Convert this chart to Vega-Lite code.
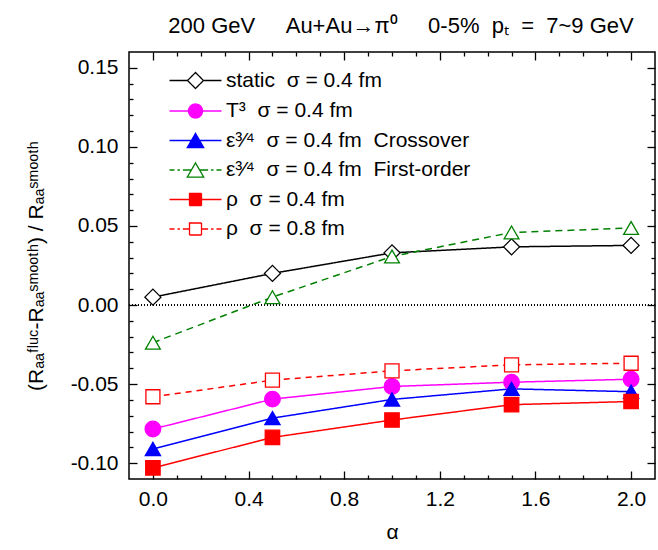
{
  "$schema": "https://vega.github.io/schema/vega-lite/v6.json",
  "width": 526,
  "height": 427,
  "autosize": {"type": "none"},
  "padding": {"left": 129, "top": 52, "right": 3, "bottom": 71},
  "title": {
    "text": "200 GeV\u00a0\u00a0\u00a0\u00a0\u00a0Au+Au→π⁰\u00a0\u00a0\u00a0\u00a0\u00a00-5%\u00a0\u00a0pₜ\u00a0\u00a0=\u00a0\u00a07~9 GeV",
    "font": "Liberation Sans",
    "fontSize": 22,
    "fontWeight": "normal",
    "color": "black",
    "anchor": "middle",
    "frame": "group",
    "dx": 9,
    "offset": 13
  },
  "config": {
    "view": {"stroke": "black", "strokeWidth": 1.5},
    "font": "Liberation Sans",
    "axis": {
      "domain": false,
      "grid": false,
      "tickColor": "black",
      "tickWidth": 1.3,
      "labelColor": "black",
      "labelFont": "Liberation Sans",
      "labelFontSize": 21,
      "titleColor": "black",
      "titleFont": "Liberation Sans",
      "titleFontWeight": "normal"
    }
  },
  "data": {
    "values": [
      {"series": "static", "alpha": 0.0, "value": 0.005},
      {"series": "static", "alpha": 0.5, "value": 0.020},
      {"series": "static", "alpha": 1.0, "value": 0.033},
      {"series": "static", "alpha": 1.5, "value": 0.0368},
      {"series": "static", "alpha": 2.0, "value": 0.0377},
      {"series": "T3", "alpha": 0.0, "value": -0.0784},
      {"series": "T3", "alpha": 0.5, "value": -0.0595},
      {"series": "T3", "alpha": 1.0, "value": -0.0515},
      {"series": "T3", "alpha": 1.5, "value": -0.0488},
      {"series": "T3", "alpha": 2.0, "value": -0.0469},
      {"series": "epsC", "alpha": 0.0, "value": -0.091},
      {"series": "epsC", "alpha": 0.5, "value": -0.0715},
      {"series": "epsC", "alpha": 1.0, "value": -0.0597},
      {"series": "epsC", "alpha": 1.5, "value": -0.053},
      {"series": "epsC", "alpha": 2.0, "value": -0.0548},
      {"series": "epsF", "alpha": 0.0, "value": -0.0238},
      {"series": "epsF", "alpha": 0.5, "value": 0.005},
      {"series": "epsF", "alpha": 1.0, "value": 0.0307},
      {"series": "epsF", "alpha": 1.5, "value": 0.0459},
      {"series": "epsF", "alpha": 2.0, "value": 0.0487},
      {"series": "rho4", "alpha": 0.0, "value": -0.103},
      {"series": "rho4", "alpha": 0.5, "value": -0.0837},
      {"series": "rho4", "alpha": 1.0, "value": -0.0727},
      {"series": "rho4", "alpha": 1.5, "value": -0.063},
      {"series": "rho4", "alpha": 2.0, "value": -0.061},
      {"series": "rho8", "alpha": 0.0, "value": -0.058},
      {"series": "rho8", "alpha": 0.5, "value": -0.0475},
      {"series": "rho8", "alpha": 1.0, "value": -0.0416},
      {"series": "rho8", "alpha": 1.5, "value": -0.0378},
      {"series": "rho8", "alpha": 2.0, "value": -0.0368}
    ]
  },
  "layer": [
    {
      "mark": {"type": "rule", "stroke": "black", "strokeWidth": 1, "strokeDash": [1, 2]},
      "encoding": {
        "y": {"datum": 0, "type": "quantitative", "scale": {"domain": [-0.11, 0.16], "nice": false, "zero": false}, "axis": null}
      }
    },
    {
      "mark": {"type": "line", "strokeWidth": 1.5},
      "encoding": {
        "x": {
          "field": "alpha", "type": "quantitative",
          "scale": {"domain": [-0.1, 2.1], "nice": false, "zero": false},
          "axis": {"orient": "bottom", "values": [0, 0.4, 0.8, 1.2, 1.6, 2.0], "format": ".1f", "tickSize": -8, "labelPadding": 17, "title": "α", "titleFontSize": 21, "titlePadding": 12}
        },
        "y": {
          "field": "value", "type": "quantitative",
          "scale": {"domain": [-0.11, 0.16], "nice": false, "zero": false},
          "axis": {"orient": "left", "values": [-0.1, -0.05, 0, 0.05, 0.1, 0.15], "labelExpr": "replace(format(datum.value, '.2f'), '−', '-')", "tickSize": -8, "labelPadding": 19, "title": "(Rₐₐᶠˡᵘᶜ-Rₐₐˢᵐᵒᵒᵗʰ) / Rₐₐˢᵐᵒᵒᵗʰ", "titleFontSize": 21, "titlePadding": 24}
        },
        "stroke": {
          "field": "series", "type": "nominal",
          "scale": {
            "domain": ["static", "T3", "epsC", "epsF", "rho4", "rho8"],
            "range": ["black", "#ff00ff", "#0000ff", "#008000", "#ff0000", "#ff0000"]
          },
          "legend": null
        },
        "strokeDash": {
          "field": "series", "type": "nominal",
          "scale": {
            "domain": ["static", "T3", "epsC", "epsF", "rho4", "rho8"],
            "range": [[1, 0], [1, 0], [1, 0], [7, 5], [1, 0], [6, 5]]
          },
          "legend": null
        },
        "opacity": {
          "field": "series", "type": "nominal",
          "sort": ["static", "T3", "epsC", "epsF", "rho4", "rho8"],
          "scale": {"range": [1, 1, 1, 1, 1, 1]},
          "legend": {
            "title": null, "orient": "top-left", "offset": 18, "padding": 0,
            "symbolOffset": 38, "labelOffset": 20, "labelFontSize": 21, "labelFont": "Liberation Sans", "labelColor": "black",
            "symbolSize": 144, "symbolStrokeWidth": 1.3, "rowPadding": 7.5, "labelLimit": 400,
            "labelExpr": "datum.label == 'static' ? 'static\u00a0\u00a0σ = 0.4 fm' : datum.label == 'T3' ? 'T³\u00a0\u00a0σ = 0.4 fm' : datum.label == 'epsC' ? 'ε³⁄⁴\u00a0\u00a0σ = 0.4 fm\u00a0\u00a0Crossover' : datum.label == 'epsF' ? 'ε³⁄⁴\u00a0\u00a0σ = 0.4 fm\u00a0\u00a0First-order' : datum.label == 'rho4' ? 'ρ\u00a0\u00a0σ = 0.4 fm' : 'ρ\u00a0\u00a0σ = 0.8 fm'",
            "encode": {
              "symbols": {
                "update": {
                  "opacity": {"value": 1},
                  "strokeDash": {"value": [1, 0]},
                  "strokeWidth": {"value": 1.3},
                  "stroke": {"signal": "datum.value == 'static' ? 'black' : datum.value == 'T3' ? '#ff00ff' : datum.value == 'epsC' ? '#0000ff' : datum.value == 'epsF' ? '#008000' : '#ff0000'"},
                  "fill": {"signal": "datum.value == 'T3' ? '#ff00ff' : datum.value == 'epsC' ? '#0000ff' : datum.value == 'rho4' ? '#ff0000' : 'white'"},
                  "shape": {"signal": "datum.value == 'static' ? 'M-4.33,0H-1.33M1.33,0H4.33M-1.33,0L0,-1.33L1.33,0L0,1.33Z' : datum.value == 'T3' ? 'M-4.33,0H-1.17M1.17,0H4.33M1.17,0A1.17,1.17,0,1,1,-1.17,0A1.17,1.17,0,1,1,1.17,0Z' : datum.value == 'epsC' ? 'M-4.33,0H-0.75M0.75,0H4.33M0,-1.19L1.375,1.19L-1.375,1.19Z' : datum.value == 'epsF' ? 'M-4.33,0H-3.5M-3,0H-2.6M-2.1,0H-0.75M0.75,0H2.1M2.6,0H3M3.5,0H4.33M0,-1.19L1.375,1.19L-1.375,1.19Z' : datum.value == 'rho4' ? 'M-4.33,0H-1M1,0H4.33M-1,-1H1V1H-1Z' : 'M-4.33,0H-3.5M-3,0H-2.6M-2.1,0H-1M1,0H2.1M2.6,0H3M3.5,0H4.33M-1,-1H1V1H-1Z'"}
                }
              }
            }
          }
        }
      }
    },
    {
      "mark": {"type": "point", "strokeWidth": 1.3, "opacity": 1},
      "encoding": {
        "x": {
          "field": "alpha", "type": "quantitative",
          "axis": {"orient": "bottom", "values": [0.1, 0.2, 0.3, 0.5, 0.6, 0.7, 0.9, 1.0, 1.1, 1.3, 1.4, 1.5, 1.7, 1.8, 1.9], "labels": false, "tickSize": -4, "title": null}
        },
        "y": {
          "field": "value", "type": "quantitative",
          "axis": {"orient": "left", "values": [-0.09, -0.08, -0.07, -0.06, -0.04, -0.03, -0.02, -0.01, 0.01, 0.02, 0.03, 0.04, 0.06, 0.07, 0.08, 0.09, 0.11, 0.12, 0.13, 0.14], "labels": false, "tickSize": -4, "title": null}
        },
        "stroke": {"field": "series", "type": "nominal", "legend": null},
        "fill": {
          "field": "series", "type": "nominal",
          "scale": {
            "domain": ["static", "T3", "epsC", "epsF", "rho4", "rho8"],
            "range": ["white", "#ff00ff", "#0000ff", "white", "#ff0000", "white"]
          },
          "legend": null
        },
        "shape": {
          "field": "series", "type": "nominal",
          "scale": {
            "domain": ["static", "T3", "epsC", "epsF", "rho4", "rho8"],
            "range": ["diamond", "circle", "triangle-up", "triangle-up", "square", "square"]
          },
          "legend": null
        },
        "size": {
          "field": "series", "type": "ordinal",
          "scale": {
            "domain": ["static", "T3", "epsC", "epsF", "rho4", "rho8"],
            "range": [256, 196, 272, 272, 144, 144]
          },
          "legend": null
        }
      }
    },
    {
      "mark": {"type": "point", "opacity": 0},
      "encoding": {
        "x": {"field": "alpha", "type": "quantitative", "axis": {"orient": "top", "values": [0, 0.4, 0.8, 1.2, 1.6, 2.0], "labels": false, "tickSize": -8, "title": null}},
        "y": {"field": "value", "type": "quantitative", "axis": {"orient": "right", "values": [-0.1, -0.05, 0, 0.05, 0.1, 0.15], "labels": false, "tickSize": -8, "title": null}}
      }
    },
    {
      "mark": {"type": "point", "opacity": 0},
      "encoding": {
        "x": {"field": "alpha", "type": "quantitative", "axis": {"orient": "top", "values": [0.1, 0.2, 0.3, 0.5, 0.6, 0.7, 0.9, 1.0, 1.1, 1.3, 1.4, 1.5, 1.7, 1.8, 1.9], "labels": false, "tickSize": -4, "title": null}},
        "y": {"field": "value", "type": "quantitative", "axis": {"orient": "right", "values": [-0.09, -0.08, -0.07, -0.06, -0.04, -0.03, -0.02, -0.01, 0.01, 0.02, 0.03, 0.04, 0.06, 0.07, 0.08, 0.09, 0.11, 0.12, 0.13, 0.14], "labels": false, "tickSize": -4, "title": null}}
      }
    }
  ],
  "resolve": {"axis": {"x": "independent", "y": "independent"}}
}
